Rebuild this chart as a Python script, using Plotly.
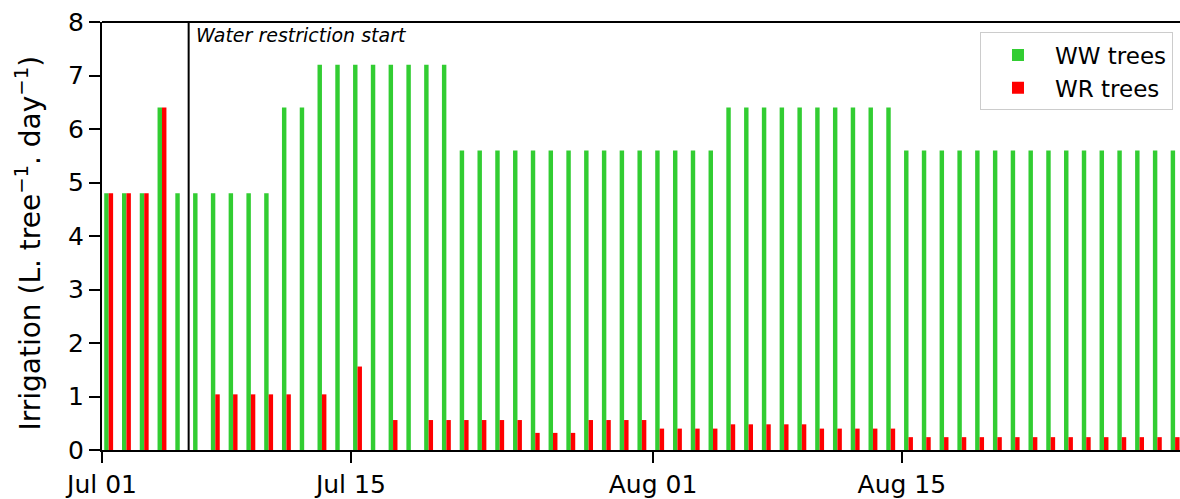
import pandas as pd
import plotly.graph_objects as go

# Daily irrigation doses, 1 Jul - 30 Aug (L per tree per day)
dates = pd.date_range("2019-07-01", "2019-08-30", freq="D")

ww_trees = (
    [4.8, 4.8, 4.8, 6.4]          # Jul 01-04
    + [4.8] * 6                   # Jul 05-10
    + [6.4] * 2                   # Jul 11-12
    + [7.2] * 8                   # Jul 13-20
    + [5.6] * 15                  # Jul 21 - Aug 04
    + [6.4] * 10                  # Aug 05-14
    + [5.6] * 16                  # Aug 15-30
)

wr_trees = (
    [4.8, 4.8, 4.8, 6.4]          # Jul 01-04
    + [0, 0]                      # Jul 05-06
    + [1.04] * 5                  # Jul 07-11
    + [0, 1.04, 0, 1.56, 0]       # Jul 12-16
    + [0.56, 0]                   # Jul 17-18
    + [0.56] * 6                  # Jul 19-24
    + [0.32] * 3                  # Jul 25-27
    + [0.56] * 4                  # Jul 28-31
    + [0.40] * 4                  # Aug 01-04
    + [0.48] * 5                  # Aug 05-09
    + [0.40] * 5                  # Aug 10-14
    + [0.24] * 16                 # Aug 15-30
)

restriction_start = pd.Timestamp("2019-07-05 21:00")
tick_dates = pd.to_datetime(["2019-07-01", "2019-07-15", "2019-08-01", "2019-08-15"])
tick_text = ["Jul 01", "Jul 15", "Aug 01", "Aug 15"]

DAY_MS = 86400000
FONT = "DejaVu Sans"

fig = go.Figure()
fig.add_trace(go.Bar(
    x=dates, y=ww_trees, name="WW trees",
    width=0.25 * DAY_MS, offset=0.125 * DAY_MS,
    marker=dict(color="#32CD32", line=dict(width=0)),
))
fig.add_trace(go.Bar(
    x=dates, y=wr_trees, name="WR trees",
    width=0.25 * DAY_MS, offset=0.375 * DAY_MS,
    marker=dict(color="#FF0000", line=dict(width=0)),
))

x_end = pd.Timestamp("2019-07-01") + pd.Timedelta(days=60.65)

fig.update_layout(
    width=1180, height=499,
    margin=dict(l=102, r=0, t=22, b=43),
    paper_bgcolor="white", plot_bgcolor="white",
    barmode="overlay",
    font=dict(family=FONT, color="black"),
    showlegend=True,
    legend=dict(
        x=0.9935, y=0.9755, xanchor="right", yanchor="top",
        font=dict(size=23, family=FONT, color="black"),
        bgcolor="white", bordercolor="#cccccc", borderwidth=1,
        itemwidth=64, tracegroupgap=3,
    ),
    xaxis=dict(
        type="date", range=[pd.Timestamp("2019-07-01"), x_end],
        tickvals=tick_dates, ticktext=tick_text,
        tickfont=dict(size=25, family=FONT, color="black"),
        ticks="outside", ticklen=11, tickwidth=1.8, tickcolor="black",
        showline=True, linewidth=2, linecolor="black",
        showgrid=False, zeroline=False,
    ),
    yaxis=dict(
        range=[0, 8], tickvals=list(range(0, 9)),
        tickfont=dict(size=25, family=FONT, color="black"),
        ticks="outside", ticklen=11, tickwidth=1.8, tickcolor="black",
        showline=True, linewidth=2, linecolor="black",
        showgrid=False, zeroline=False,
    ),
    shapes=[
        # top frame line
        dict(type="line", xref="paper", yref="paper", x0=0, x1=1, y0=1, y1=1,
             line=dict(color="black", width=2)),
        # start of the water restriction
        dict(type="line", xref="x", yref="y", x0=restriction_start, x1=restriction_start,
             y0=0, y1=8, line=dict(color="black", width=2)),
    ],
    annotations=[
        dict(text="Water restriction start", xref="x", yref="y",
             x=restriction_start, y=7.75, xanchor="left", yanchor="middle",
             xshift=5, showarrow=False,
             font=dict(size=19, family=FONT, color="black", style="italic")),
        dict(text="Irrigation (L. tree<sup>−1</sup>. day<sup>−1</sup>)",
             xref="paper", yref="paper", x=-0.068, y=0.484,
             xanchor="center", yanchor="middle", textangle=-90, showarrow=False,
             font=dict(size=28, family=FONT, color="black")),
    ],
)

fig.write_html("out.html")
